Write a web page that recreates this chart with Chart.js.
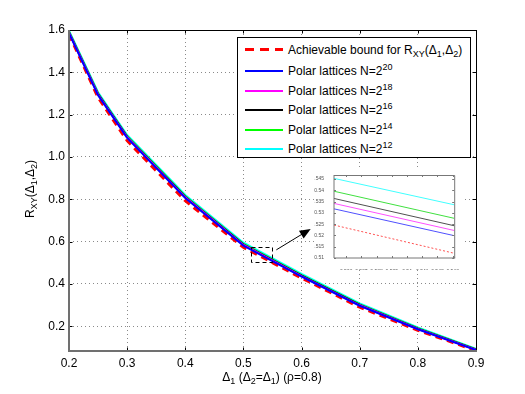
<!DOCTYPE html>
<html>
<head>
<meta charset="utf-8">
<script src="https://cdn.jsdelivr.net/npm/chart.js@4.4.0/dist/chart.umd.min.js"></script>
<style>
body { margin: 0; background: #fff; }
#wrap { position: relative; width: 525px; height: 394px; font-family: "Liberation Sans", Arial, sans-serif; color: #000; }
#main { position: absolute; left: 0; top: 0; }
#inset { position: absolute; left: 314px; top: 170px; background: #fff; }
.lg { position: absolute; left: 237px; top: 37px; width: 234px; height: 121px; border: 1px solid #000; background: #fff; box-sizing: border-box; font-size: 12px; }
.row { position: absolute; left: 7px; height: 14px; display: flex; align-items: center; white-space: nowrap; }
.smp { width: 38px; height: 2px; margin-right: 5px; }
sub, sup { font-size: 75%; line-height: 0; }
.ttl { position: absolute; font-size: 12px; white-space: nowrap; text-align: center; }
</style>
</head>
<body>
<div id="wrap">
  <canvas id="main" width="525" height="394"></canvas>
  <canvas id="inset" width="148" height="100"></canvas>
  <div class="lg" id="legend"></div>
  <div class="ttl" style="left:-30px;top:182px;width:120px;transform:rotate(-90deg);">R<sub>XY</sub>(Δ<sub>1</sub>,Δ<sub>2</sub>)</div>
  <div class="ttl" style="left:172px;top:370px;width:200px;">Δ<sub>1</sub> (Δ<sub>2</sub>=Δ<sub>1</sub>) (ρ=0.8)</div>
</div>
<script>
// distortion values on the x axis
var xVals = [0.2, 0.25, 0.3, 0.4, 0.5, 0.6, 0.7, 0.8, 0.9];
// rates
var boundVals = [1.580, 1.281, 1.077, 0.793, 0.573, 0.428, 0.290, 0.181, 0.085];
var n20Vals = [1.585, 1.292, 1.090, 0.806, 0.581, 0.435, 0.297, 0.186, 0.088];
var n18Vals = [1.587, 1.295, 1.093, 0.809, 0.584, 0.437, 0.299, 0.187, 0.089];
var n16Vals = [1.589, 1.297, 1.095, 0.811, 0.586, 0.439, 0.301, 0.189, 0.090];
var n14Vals = [1.592, 1.300, 1.098, 0.814, 0.589, 0.442, 0.303, 0.191, 0.091];
var n12Vals = [1.597, 1.306, 1.104, 0.820, 0.595, 0.447, 0.308, 0.194, 0.093];

var xTicks = [0.2, 0.3, 0.4, 0.5, 0.6, 0.7, 0.8, 0.9];
var yTicks = [0.2, 0.4, 0.6, 0.8, 1, 1.2, 1.4, 1.6];

// zoomed region (inset)
var zX = [0.5352, 0.5431];
var zBound = [0.5246, 0.5121];
var z20 = [0.5318, 0.5199];
var z18 = [0.5342, 0.5222];
var z16 = [0.5364, 0.5243];
var z14 = [0.5396, 0.5276];
var z12 = [0.5453, 0.5336];
var zxTicks = [0.536, 0.537, 0.538, 0.539, 0.54, 0.541, 0.542, 0.543];
var zyTicks = [0.51, 0.515, 0.52, 0.525, 0.53, 0.535, 0.54, 0.545];

// dashed box and arrow, in data units
var boxX = [0.513, 0.5486];
var boxY = [0.505, 0.576];
var arrowFrom = [0.5566, 0.561];
var arrowTo = [0.6157, 0.660];

var series = [
  { name: 'Achievable bound for R<sub>XY</sub>(Δ<sub>1</sub>,Δ<sub>2</sub>)', vals: boundVals, zv: zBound, color: '#ff0000', zcolor: '#ff5050', dash: true, order: 6 },
  { name: 'Polar lattices N=2<sup>20</sup>', vals: n20Vals, zv: z20, color: '#0000ff', zcolor: '#5050ff', order: 1 },
  { name: 'Polar lattices N=2<sup>18</sup>', vals: n18Vals, zv: z18, color: '#ff00ff', zcolor: '#ff50ff', order: 2 },
  { name: 'Polar lattices N=2<sup>16</sup>', vals: n16Vals, zv: z16, color: '#000000', zcolor: '#505050', order: 3 },
  { name: 'Polar lattices N=2<sup>14</sup>', vals: n14Vals, zv: z14, color: '#00ff00', zcolor: '#40e040', order: 4 },
  { name: 'Polar lattices N=2<sup>12</sup>', vals: n12Vals, zv: z12, color: '#00ffff', zcolor: '#40ffff', order: 5 }
];

function pts(xs, ys) {
  return xs.map(function (x, i) { return { x: x, y: ys[i] }; });
}

var font = { family: '"Liberation Sans", Arial, sans-serif', size: 12 };

// box round the plot + inward ticks, like matlab
var frame = {
  id: 'frame',
  afterDraw: function (chart, args, o) {
    var ctx = chart.ctx, a = chart.chartArea, x = chart.scales.x, y = chart.scales.y;
    ctx.save();
    ctx.strokeStyle = o.tickColor;
    ctx.lineWidth = 1;
    ctx.beginPath();
    x.ticks.forEach(function (t) {
      var p = Math.round(x.getPixelForValue(t.value)) + 0.5;
      ctx.moveTo(p, a.bottom); ctx.lineTo(p, a.bottom - o.tick);
      ctx.moveTo(p, a.top); ctx.lineTo(p, a.top + o.tick);
    });
    y.ticks.forEach(function (t) {
      var p = Math.round(y.getPixelForValue(t.value)) + 0.5;
      ctx.moveTo(a.left, p); ctx.lineTo(a.left + o.tick, p);
      ctx.moveTo(a.right, p); ctx.lineTo(a.right - o.tick, p);
    });
    ctx.stroke();
    ctx.strokeStyle = o.topColor;
    ctx.lineWidth = 1;
    ctx.beginPath();
    ctx.moveTo(a.left, a.top + 0.5); ctx.lineTo(a.right + 0.5, a.top + 0.5);
    ctx.lineTo(a.right + 0.5, a.bottom);
    ctx.stroke();
    ctx.strokeStyle = o.sideColor;
    ctx.lineWidth = o.sideWidth;
    ctx.beginPath();
    ctx.moveTo(a.left, a.top); ctx.lineTo(a.left, a.bottom); ctx.lineTo(a.right + 1, a.bottom);
    ctx.stroke();
    ctx.restore();
  }
};

var marker = {
  id: 'marker',
  afterDatasetsDraw: function (chart) {
    var ctx = chart.ctx, x = chart.scales.x, y = chart.scales.y;
    ctx.save();
    ctx.strokeStyle = '#000';
    ctx.lineWidth = 1;
    ctx.setLineDash([4, 3]);
    var x0 = x.getPixelForValue(boxX[0]), x1 = x.getPixelForValue(boxX[1]);
    var y0 = y.getPixelForValue(boxY[1]), y1 = y.getPixelForValue(boxY[0]);
    ctx.strokeRect(Math.round(x0) + 0.5, Math.round(y0) + 0.5, Math.round(x1 - x0), Math.round(y1 - y0));
    ctx.setLineDash([]);
    var ax = x.getPixelForValue(arrowFrom[0]), ay = y.getPixelForValue(arrowFrom[1]);
    var bx = x.getPixelForValue(arrowTo[0]), by = y.getPixelForValue(arrowTo[1]);
    var ang = Math.atan2(by - ay, bx - ax);
    ctx.beginPath();
    ctx.moveTo(ax, ay); ctx.lineTo(bx - 8 * Math.cos(ang), by - 8 * Math.sin(ang));
    ctx.stroke();
    ctx.fillStyle = '#000';
    ctx.beginPath();
    ctx.moveTo(bx, by);
    ctx.lineTo(bx - 11 * Math.cos(ang) + 4.5 * Math.sin(ang), by - 11 * Math.sin(ang) - 4.5 * Math.cos(ang));
    ctx.lineTo(bx - 11 * Math.cos(ang) - 4.5 * Math.sin(ang), by - 11 * Math.sin(ang) + 4.5 * Math.cos(ang));
    ctx.closePath();
    ctx.fill();
    ctx.restore();
  }
};

new Chart(document.getElementById('main').getContext('2d'), {
  type: 'line',
  data: {
    datasets: series.map(function (s) {
      return {
        data: pts(xVals, s.vals),
        borderColor: s.color,
        borderWidth: s.dash ? 3 : 2,
        borderDash: s.dash ? [7, 5] : [],
        pointRadius: 0,
        tension: 0,
        order: s.order
      };
    })
  },
  options: {
    responsive: false,
    devicePixelRatio: 1,
    animation: false,
    layout: { padding: { left: 0, top: 30, right: 49, bottom: 0 } },
    plugins: {
      legend: { display: false },
      tooltip: { enabled: false },
      frame: { tick: 3.5, tickColor: '#000', topColor: '#000', sideColor: '#707070', sideWidth: 2 }
    },
    scales: {
      x: {
        type: 'linear', min: 0.2, max: 0.9,
        afterBuildTicks: function (s) { s.ticks = xTicks.map(function (v) { return { value: v }; }); },
        afterFit: function (s) { s.height = 43; },
        ticks: { font: font, color: '#000', padding: 5, maxRotation: 0, autoSkip: false },
        grid: { color: '#8a8a8a', lineWidth: 1, drawTicks: false },
        border: { display: false, dash: [1, 3] }
      },
      y: {
        type: 'linear', min: 0.083, max: 1.6,
        afterBuildTicks: function (s) { s.ticks = yTicks.map(function (v) { return { value: v }; }); },
        afterFit: function (s) { s.width = 69; },
        ticks: { font: font, color: '#000', padding: 4, autoSkip: false },
        grid: { color: '#8a8a8a', lineWidth: 1, drawTicks: false },
        border: { display: false, dash: [1, 3] }
      }
    }
  },
  plugins: [marker, frame]
});

// zoomed view
var smallFont = { family: '"Liberation Sans", Arial, sans-serif', size: 5 };
new Chart(document.getElementById('inset').getContext('2d'), {
  type: 'line',
  data: {
    datasets: series.map(function (s) {
      return {
        data: pts(zX, s.zv),
        borderColor: s.zcolor,
        borderWidth: 1,
        borderDash: s.dash ? [2, 2] : [],
        pointRadius: 0,
        order: s.order
      };
    })
  },
  options: {
    responsive: false,
    devicePixelRatio: 1,
    animation: false,
    layout: { padding: { left: 0, top: 5, right: 6, bottom: 0 } },
    plugins: {
      legend: { display: false },
      tooltip: { enabled: false },
      frame: { tick: 2, tickColor: '#777', topColor: '#777', sideColor: '#777', sideWidth: 1 }
    },
    scales: {
      x: {
        type: 'linear', min: zX[0], max: zX[1],
        afterBuildTicks: function (s) { s.ticks = zxTicks.map(function (v) { return { value: v }; }); },
        afterFit: function (s) { s.height = 12; },
        ticks: { font: smallFont, color: '#555', padding: 3, maxRotation: 0, autoSkip: false,
          callback: function (v) { return String(+v.toFixed(3)); } },
        grid: { display: false },
        border: { display: false }
      },
      y: {
        type: 'linear', min: 0.51, max: 0.5468,
        afterBuildTicks: function (s) { s.ticks = zyTicks.map(function (v) { return { value: v }; }); },
        afterFit: function (s) { s.width = 20; },
        ticks: { font: smallFont, color: '#555', padding: 2, autoSkip: false,
          callback: function (v) { return String(+v.toFixed(3)); } },
        grid: { display: false },
        border: { display: false }
      }
    }
  },
  plugins: [frame]
});

// legend with sub/superscripts
var centers = [11.5, 33, 52.5, 72, 91.5, 110.5];
var lg = document.getElementById('legend');
series.forEach(function (s, i) {
  var row = document.createElement('div');
  row.className = 'row';
  row.style.top = (centers[i] - 7) + 'px';
  var smp = document.createElement('div');
  smp.className = 'smp';
  if (s.dash) {
    smp.style.height = '3px';
    smp.style.background = 'repeating-linear-gradient(90deg,' + s.color + ' 0 9px, transparent 9px 15px)';
  } else {
    smp.style.background = s.color;
  }
  var txt = document.createElement('span');
  txt.innerHTML = s.name;
  row.appendChild(smp);
  row.appendChild(txt);
  lg.appendChild(row);
});
</script>
</body>
</html>
